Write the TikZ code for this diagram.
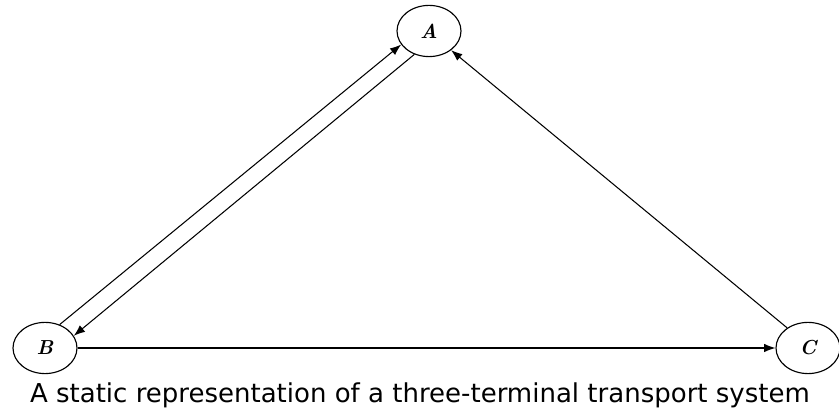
\documentclass[tikz,border=0pt]{standalone}
\usepackage{fontspec}
\newfontfamily\capfont{DejaVu Sans}
\usetikzlibrary{arrows.meta,shapes,positioning}

\tikzset{
  terminal/.style={draw,ellipse,line width=0.8pt,minimum width=1.6cm,minimum height=1.28cm,inner sep=0pt,font=\Large\bfseries\itshape},
  route/.style={line width=0.75pt,-{Latex[length=8pt,width=6pt]}}
}

\begin{document}
\begin{tikzpicture}
\useasboundingbox (0,0) rectangle (20.975,10.4);

% the three terminals
\node [terminal] (A) at (10.725,9.625) {A};
\node [terminal] (B) at (1.125,1.7) {B};
\node [terminal] (C) at (20.2,1.7) {C};

% routes between them
\draw[route] (B.58) -- (A.206);
\draw[route] (A.238) -- (B.23);
\draw[route] (C.136) -- (A.319);
\draw[route] (B.east) -- (C.west);

\node [font=\capfont\fontsize{18.5}{22}\selectfont] (caption) at (10.5,0.52) {A static representation of a three-terminal transport system};

\end{tikzpicture}
\end{document}
